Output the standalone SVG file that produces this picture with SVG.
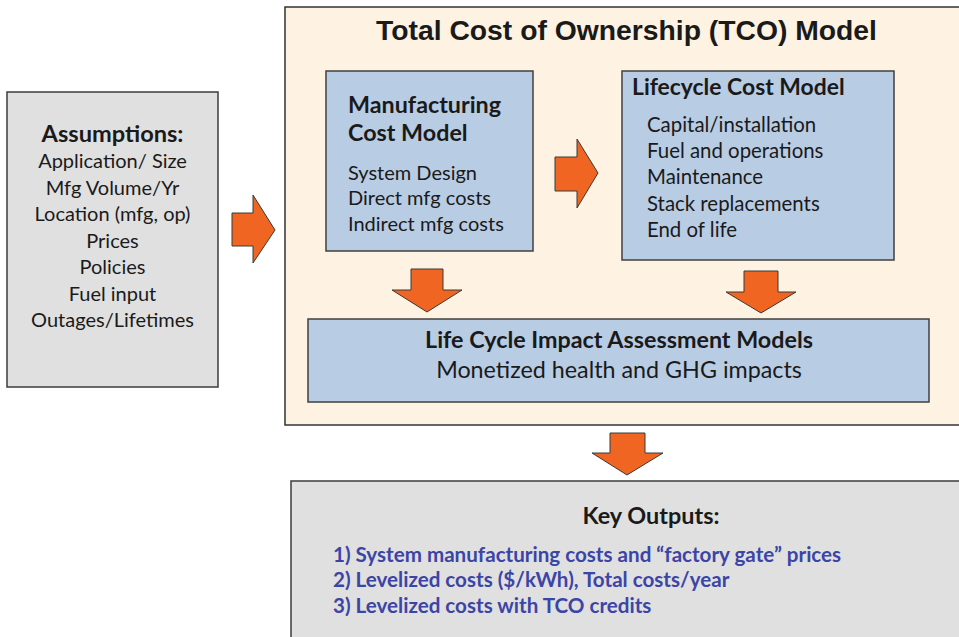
<svg xmlns="http://www.w3.org/2000/svg" width="959" height="637" viewBox="0 0 959 637">
  <style>
    .t { font-family: Lato, "Liberation Sans", sans-serif; fill: #1a1a1a; }
    .b { font-weight: bold; }
    .gray { fill: #e0e0e0; stroke: #3c3c3c; stroke-width: 1.5; }
    .blue { fill: #b8cce4; stroke: #404040; stroke-width: 1.5; }
    .arrow { fill: #ef6521; stroke: #3a3a3a; stroke-width: 1; stroke-linejoin: miter; }
    .out { fill: #3b45a6; font-weight: bold; font-size: 20.6px; }
  </style>

  <!-- outer TCO frame -->
  <g id="tco">
    <rect x="285" y="7" width="690" height="418" fill="#fef3e2" stroke="#333" stroke-width="1.5"/>
    <text x="626.5" y="40" text-anchor="middle" font-family="'Liberation Sans', Arial, sans-serif" font-weight="bold" font-size="28.3" fill="#1a1a1a">Total Cost of Ownership (TCO) Model</text>
  </g>

  <g id="assumptions">
    <rect class="gray" x="7" y="92" width="211" height="295"/>
    <g class="t" font-size="20" text-anchor="middle">
      <text class="b" x="112.5" y="142" font-size="23.6">Assumptions:</text>
      <text x="112.5" y="168">Application/ Size</text>
      <text x="112.5" y="194.5">Mfg Volume/Yr</text>
      <text x="112.5" y="221">Location (mfg, op)</text>
      <text x="112.5" y="247.5">Prices</text>
      <text x="112.5" y="274">Policies</text>
      <text x="112.5" y="300.5">Fuel input</text>
      <text x="112.5" y="327">Outages/Lifetimes</text>
    </g>
  </g>

  <g id="manufacturing">
    <rect class="blue" x="326" y="71" width="207" height="180"/>
    <g class="t" font-size="20">
      <text class="b" x="348" y="113" font-size="23.3">Manufacturing</text>
      <text class="b" x="348" y="141" font-size="23.3">Cost Model</text>
      <text x="348" y="180">System Design</text>
      <text x="348" y="205">Direct mfg costs</text>
      <text x="348" y="231">Indirect mfg costs</text>
    </g>
  </g>

  <g id="lifecycle">
    <rect class="blue" x="622" y="71" width="272" height="189"/>
    <g class="t" font-size="20.4">
      <text class="b" x="632" y="95" font-size="22.9">Lifecycle Cost Model</text>
      <text x="647" y="131.5">Capital/installation</text>
      <text x="647" y="158">Fuel and operations</text>
      <text x="647" y="184">Maintenance</text>
      <text x="647" y="210.5">Stack replacements</text>
      <text x="647" y="237">End of life</text>
    </g>
  </g>

  <g id="lcia">
    <rect class="blue" x="308" y="319" width="621" height="83"/>
    <g class="t" text-anchor="middle">
      <text class="b" x="619" y="348" font-size="23.3">Life Cycle Impact Assessment Models</text>
      <text x="619" y="378" font-size="23.3">Monetized health and GHG impacts</text>
    </g>
  </g>

  <g id="outputs">
    <rect class="gray" x="291" y="481" width="690" height="170"/>
    <text class="t b" x="651" y="524" font-size="23.4" text-anchor="middle">Key Outputs:</text>
    <g font-family="Lato, 'Liberation Sans', sans-serif">
      <text class="out" x="333" y="562">1) System manufacturing costs and “factory gate” prices</text>
      <text class="out" x="333" y="587">2) Levelized costs ($/kWh), Total costs/year</text>
      <text class="out" x="333" y="613">3) Levelized costs with TCO credits</text>
    </g>
  </g>

  <!-- block arrows between stages -->
  <g id="connectors">
    <polygon class="arrow" points="232,213 253,213 253,195 275,230 253,263 253,246 232,246"/>
    <polygon class="arrow" points="555,157 577,157 577,139 598,173 577,208 577,191 555,191"/>
    <polygon class="arrow" points="411,269 443,269 443,290 462,290 427,312 392,290 411,290"/>
    <polygon class="arrow" points="744,271 778,271 778,292 796,292 761,313 726,292 744,292"/>
    <polygon class="arrow" points="610,433 645,433 645,453 663,453 627,475 592,453 610,453"/>
  </g>
</svg>
